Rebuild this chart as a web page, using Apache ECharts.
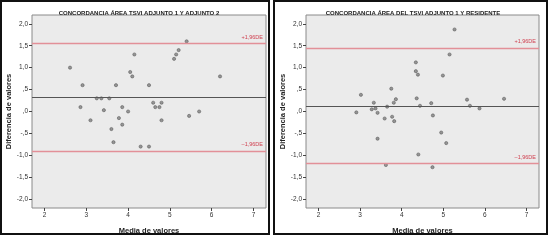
<!DOCTYPE html>
<html>
<head>
<meta charset="utf-8">
<script src="https://cdn.jsdelivr.net/npm/echarts@6/dist/echarts.min.js"></script>
<style>
  html, body { margin: 0; padding: 0; background: #fff; }
  #chart { width: 560px; height: 240px; }
</style>
</head>
<body>
<div id="chart"></div>
<script>
// panel titles
var titles = ['CONCORDANCIA ÁREA TSVI ADJUNTO 1 Y ADJUNTO 2', 'CONCORDANCIA ÁREA DEL TSVI ADJUNTO 1 Y RESIDENTE'];

// left panel: media vs diferencia
var leftMedia = [2.61, 2.91, 3.71, 4.15, 4.05, 4.1, 4.5, 5.1, 5.15, 5.21, 5.4, 6.2,
  3.25, 3.36, 3.55, 2.86, 3.42, 3.86, 4.0, 4.6, 4.8, 4.65, 4.75,
  3.1, 3.78, 3.86, 4.8, 5.46, 5.7, 3.6, 3.65, 4.3, 4.5];
var leftDif = [1.0, 0.6, 0.6, 1.3, 0.9, 0.8, 0.6, 1.2, 1.3, 1.4, 1.6, 0.8,
  0.3, 0.3, 0.3, 0.1, 0.03, 0.1, 0.0, 0.2, 0.2, 0.1, 0.1,
  -0.2, -0.15, -0.3, -0.2, -0.1, 0.0, -0.4, -0.7, -0.8, -0.8];
var leftMean = 0.32, leftUpper = 1.55, leftLower = -0.9;

// right panel
var rightMedia = [5.27, 5.15, 4.34, 4.34, 4.39, 4.99, 3.02, 3.75, 3.33, 3.86, 3.81,
  4.36, 4.71, 5.57, 6.46, 3.65, 4.44, 5.64, 5.87, 2.91, 3.28, 3.37, 3.42,
  3.77, 3.59, 3.82, 4.75, 3.42, 4.95, 5.07, 4.4, 3.62, 4.74];
var rightDif = [1.87, 1.3, 1.12, 0.92, 0.84, 0.82, 0.38, 0.52, 0.2, 0.28, 0.2,
  0.3, 0.19, 0.27, 0.29, 0.11, 0.13, 0.13, 0.07, -0.02, 0.05, 0.07, -0.03,
  -0.12, -0.16, -0.22, -0.09, -0.62, -0.48, -0.72, -0.98, -1.22, -1.27];
var rightMean = 0.13, rightUpper = 1.45, rightLower = -1.19;

var yTicks = [-2, -1.5, -1, -0.5, 0, 0.5, 1, 1.5, 2];
var xTicks = [2, 3, 4, 5, 6, 7];

function fmtY(v) {
  // SPSS spanish style: 2,0  ,5  -,5
  var s = Math.abs(v).toFixed(1).replace('.', ',');
  if (s.charAt(0) === '0') s = s.substring(1);
  return (v < 0 ? '-' : '') + s;
}

function pairs(xs, ys) {
  var out = [];
  for (var i = 0; i < xs.length; i++) out.push([xs[i], ys[i]]);
  return out;
}

var font = 'Liberation Sans';

function makeX(idx) {
  return {
    gridIndex: idx, type: 'value', min: 1.7, max: 7.3,
    name: 'Media de valores', nameLocation: 'middle', nameGap: 19,
    nameTextStyle: { fontFamily: font, fontWeight: 'bold', fontSize: 7.5, color: '#222' },
    axisLine: { show: false, onZero: false },
    splitLine: { show: false },
    axisTick: { show: true, length: 3, lineStyle: { color: '#444' }, customValues: xTicks },
    axisLabel: { fontFamily: font, fontSize: 6.5, color: '#333', margin: 4, customValues: xTicks,
      formatter: function (v) { return String(v); } }
  };
}
function makeY(idx) {
  return {
    gridIndex: idx, type: 'value', min: -2.2, max: 2.2,
    name: 'Diferencia de valores', nameLocation: 'middle', nameGap: 19,
    nameTextStyle: { fontFamily: font, fontWeight: 'bold', fontSize: 7.5, color: '#222' },
    axisLine: { show: false, onZero: false },
    splitLine: { show: false },
    axisTick: { show: true, length: 3, lineStyle: { color: '#444' }, customValues: yTicks },
    axisLabel: { fontFamily: font, fontSize: 6.5, color: '#333', margin: 4, customValues: yTicks,
      formatter: fmtY }
  };
}

function makeSeries(idx, xs, ys, mean, up, lo) {
  return {
    type: 'scatter', xAxisIndex: idx, yAxisIndex: idx,
    data: pairs(xs, ys),
    symbolSize: 3.2,
    itemStyle: { color: '#808080', borderColor: '#4a4a4a', borderWidth: 0.6 },
    markLine: {
      silent: true, symbol: 'none', animation: false,
      data: [
        { yAxis: mean, lineStyle: { color: '#555', width: 1.2, type: 'solid' }, label: { show: false } },
        { yAxis: up, lineStyle: { color: '#e29098', width: 1.3, type: 'solid' },
          label: { show: true, position: 'insideEndTop', formatter: '+1,96DE', distance: [3, 3] } },
        { yAxis: lo, lineStyle: { color: '#e29098', width: 1.3, type: 'solid' },
          label: { show: true, position: 'insideEndTop', formatter: '\u20131,96DE', distance: [3, 3] } }
      ],
      label: { fontFamily: font, fontSize: 5.5, color: '#d04050' }
    }
  };
}

var myChart = echarts.init(document.getElementById('chart'), null, { renderer: 'canvas' });
var option = {
  animation: false,
  backgroundColor: '#fff',
  title: [
    { text: titles[0], left: 134, top: 5, textAlign: 'center',
      textStyle: { fontFamily: font, fontWeight: 'bold', fontSize: 6, color: '#222' } },
    { text: titles[1], left: 408, top: 5, textAlign: 'center',
      textStyle: { fontFamily: font, fontWeight: 'bold', fontSize: 6, color: '#222' } }
  ],
  grid: [
    { left: 32, top: 15, width: 234, height: 194, show: true, backgroundColor: '#ebebeb', borderColor: '#8a8a8a', borderWidth: 1 },
    { left: 306, top: 15, width: 233, height: 194, show: true, backgroundColor: '#ebebeb', borderColor: '#8a8a8a', borderWidth: 1 }
  ],
  xAxis: [makeX(0), makeX(1)],
  yAxis: [makeY(0), makeY(1)],
  series: [
    makeSeries(0, leftMedia, leftDif, leftMean, leftUpper, leftLower),
    makeSeries(1, rightMedia, rightDif, rightMean, rightUpper, rightLower)
  ],
  graphic: [
    { type: 'rect', shape: { x: 1, y: 1, width: 268, height: 233 }, style: { fill: 'none', stroke: '#111', lineWidth: 2 }, z: 100 },
    { type: 'rect', shape: { x: 274, y: 1, width: 273, height: 233 }, style: { fill: 'none', stroke: '#111', lineWidth: 2 }, z: 100 }
  ]
};

if (option && typeof option === 'object') {
  myChart.setOption(option);
}
</script>
</body>
</html>
